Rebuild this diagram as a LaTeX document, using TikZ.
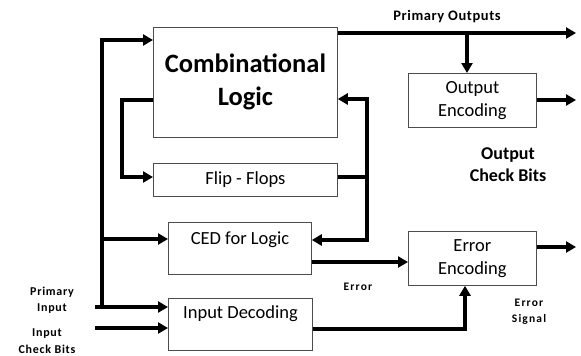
\documentclass[tikz,border=0pt]{standalone}
\usepackage{fontspec}
\setmainfont{Carlito}
\usetikzlibrary{arrows.meta}
\begin{document}
\begin{tikzpicture}[x=1pt,y=-1pt,
  blk/.style={draw=black!70, line width=0.8pt, anchor=north west, inner sep=0pt},
  txt/.style={inner sep=0pt, align=center},
  bigtxt/.style={txt, font=\fontsize{26.5}{33}\selectfont\bfseries},
  boxtxt/.style={txt, font=\fontsize{18.5}{23}\selectfont},
  midtxt/.style={txt, font=\fontsize{18}{22}\selectfont\bfseries},
  potxt/.style={txt, font=\fontsize{14.5}{17}\selectfont\bfseries\addfontfeature{LetterSpace=4}},
  errtxt/.style={txt, font=\fontsize{11.5}{16}\selectfont\bfseries\addfontfeature{LetterSpace=10}},
  intxt/.style={txt, font=\fontsize{12}{16.5}\selectfont\bfseries\addfontfeature{LetterSpace=6}},
  bus/.style={line width=3.8pt, line join=miter},
  wire/.style={bus, -{Triangle[length=10pt,width=11pt]}}]
\useasboundingbox (0,0) rectangle (581,356);
% boxes
\node[blk, minimum width=184pt, minimum height=110pt] (comb) at (153,27) {};
\node[blk, minimum width=184pt, minimum height=33pt] (ff) at (153,163) {};
\node[blk, minimum width=143pt, minimum height=52pt] (ced) at (168,222) {};
\node[blk, minimum width=144pt, minimum height=52pt] (idec) at (168,298) {};
\node[blk, minimum width=128pt, minimum height=54pt] (oenc) at (408,73) {};
\node[blk, minimum width=128pt, minimum height=54pt] (eenc) at (408,231) {};
% box texts
\node[bigtxt] (combt) at (comb.center) {Combinational\\Logic};
\node[boxtxt] (fft) at (ff.center) {Flip - Flops};
\node[boxtxt] (cedt) at (240,240) {CED for Logic};
\node[boxtxt] (idect) at (240.5,314) {Input Decoding};
\node[boxtxt] (oenct) at (oenc.center) {Output\\Encoding};
\node[boxtxt] (eenct) at (eenc.center) {Error\\Encoding};
% free labels
\node[potxt] (pol) at (447,17) {Primary Outputs};
\node[midtxt] (ocb) at (508,165) {Output\\Check Bits};
\node[errtxt] (errl) at (358,287) {Error};
\node[errtxt] (esl) at (529,312) {Error\\Signal};
\node[intxt] (pil) at (52,300) {Primary\\Input};
\node[intxt] (icl) at (47,341) {Input\\Check Bits};
% coordinates
\coordinate (poend) at (576,33);
\coordinate (br) at (467,33);
\coordinate (ocend) at (576,100);
\coordinate (esend) at (576,247);
\coordinate (fbtop) at (367,99);
\coordinate (fbmid) at (367,177);
\coordinate (fbbot) at (367,240);
\coordinate (lbtop) at (102,40);
\coordinate (lbmid) at (102,239);
\coordinate (lbbot) at (102,307);
\coordinate (pistart) at (95,307);
\coordinate (icstart) at (95,328);
\coordinate (cfa) at (122,100);
\coordinate (cfb) at (122,177);
\coordinate (idc) at (465,329);
% wires
\draw[wire] (comb.east |- poend) -- (poend);
\draw[wire] (br) -- (br |- oenc.north);
\draw[wire] (oenc.east |- ocend) -- (ocend);
\draw[wire] (eenc.east |- esend) -- (esend);
\draw[bus] (ff.east |- fbmid) -- (fbmid);
\draw[wire] (fbtop) -- (comb.east |- fbtop);
\draw[wire] ([yshift=1.9pt]fbtop) -- (fbbot) -- (ced.east |- fbbot);
\draw[wire] (comb.west |- cfa) -- (cfa) -- (cfb) -- (ff.west |- cfb);
\draw[wire] (lbbot) -- (lbtop) -- (comb.west |- lbtop);
\draw[wire] (lbmid) -- (ced.west |- lbmid);
\draw[wire] (pistart) -- (idec.west |- pistart);
\draw[wire] (icstart) -- (idec.west |- icstart);
\draw[wire] (ced.east |- 0,262) -- (eenc.west |- 0,262);
\draw[wire] (idec.east |- idc) -- (idc) -- (idc |- eenc.south);
\end{tikzpicture}
\end{document}
